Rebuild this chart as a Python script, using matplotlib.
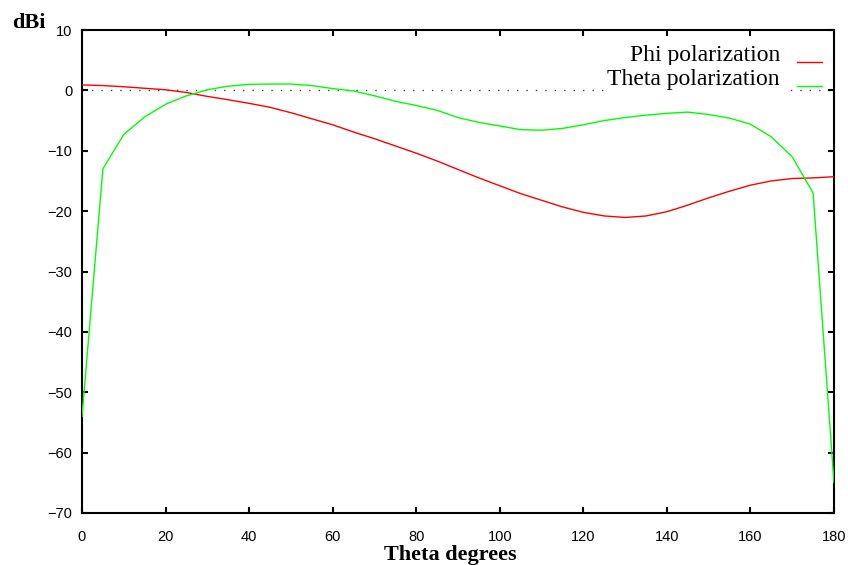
import matplotlib
matplotlib.use("Agg")
import matplotlib.pyplot as plt
import numpy as np

# radiation pattern, 5 degree steps
theta_deg = list(range(0, 181, 5))
phi_pol = [0.9, 0.8, 0.6, 0.35, 0.1, -0.35, -1.0, -1.55, -2.15, -2.8,
           -3.7, -4.7, -5.7, -6.9, -8.0, -9.2, -10.4, -11.7, -13.1, -14.5,
           -15.8, -17.1, -18.2, -19.3, -20.2, -20.8, -21.05, -20.8, -20.1, -19.0,
           -17.8, -16.7, -15.7, -15.0, -14.6, -14.5, -14.3]
theta_pol = [-54.0, -13.0, -7.3, -4.4, -2.3, -0.9, 0.1, 0.7, 1.0, 1.05,
             1.05, 0.8, 0.3, -0.1, -0.9, -1.8, -2.5, -3.3, -4.5, -5.3,
             -5.9, -6.5, -6.6, -6.3, -5.7, -5.0, -4.5, -4.1, -3.8, -3.6,
             -4.0, -4.6, -5.6, -7.7, -11.0, -17.0, -65.0]
series_names = ["Phi polarization", "Theta polarization"]
series_colors = ["#ff0000", "#00ff00"]

x_ticks = list(range(0, 181, 20))
y_ticks = list(range(-70, 11, 10))

fig = plt.figure(figsize=(8.48, 5.65), dpi=100)
ax = fig.add_axes([82 / 848, 1 - 513 / 565, 752 / 848, 483 / 565])

ax.axhline(0, color="#444444", lw=1.0, ls=(0, (1, 5.8)), zorder=1)

for vals, col in zip([phi_pol, theta_pol], series_colors):
    ax.plot(theta_deg, vals, color=col, lw=1.0, zorder=3)

ax.set_xlim(0, 180)
ax.set_ylim(-70, 10)
ax.set_xticks(x_ticks)
ax.set_yticks(y_ticks)
ax.tick_params(direction="in", length=4, width=1.5, top=True, right=True,
               labelsize=10.5, pad=12)
ax.tick_params(axis="y", pad=7)
for lab in ax.get_xticklabels() + ax.get_yticklabels():
    lab.set_family("Liberation Sans")
for sp in ax.spines.values():
    sp.set_linewidth(1.5)

# hand-placed key, gnuplot style
key_y = [0.934, 0.885]
for name, col, ky in zip(series_names, series_colors, key_y):
    ax.text(0.928, ky + 0.002, name, transform=ax.transAxes, ha="right",
            va="baseline", family="Liberation Serif", fontsize=17, zorder=4,
            bbox=dict(facecolor="white", edgecolor="none", pad=2.5))
    ax.plot([0.951, 0.984], [ky, ky], transform=ax.transAxes, color=col,
            lw=1.0, zorder=5)

fig.text(12 / 848, 1 - 28 / 565, "dBi", family="Liberation Serif",
         fontweight="bold", fontsize=16, ha="left", va="baseline")
fig.text(450 / 848, 1 - 560 / 565, "Theta degrees", family="Liberation Serif",
         fontweight="bold", fontsize=16, ha="center", va="baseline")

fig.savefig("out.png", dpi=100)
